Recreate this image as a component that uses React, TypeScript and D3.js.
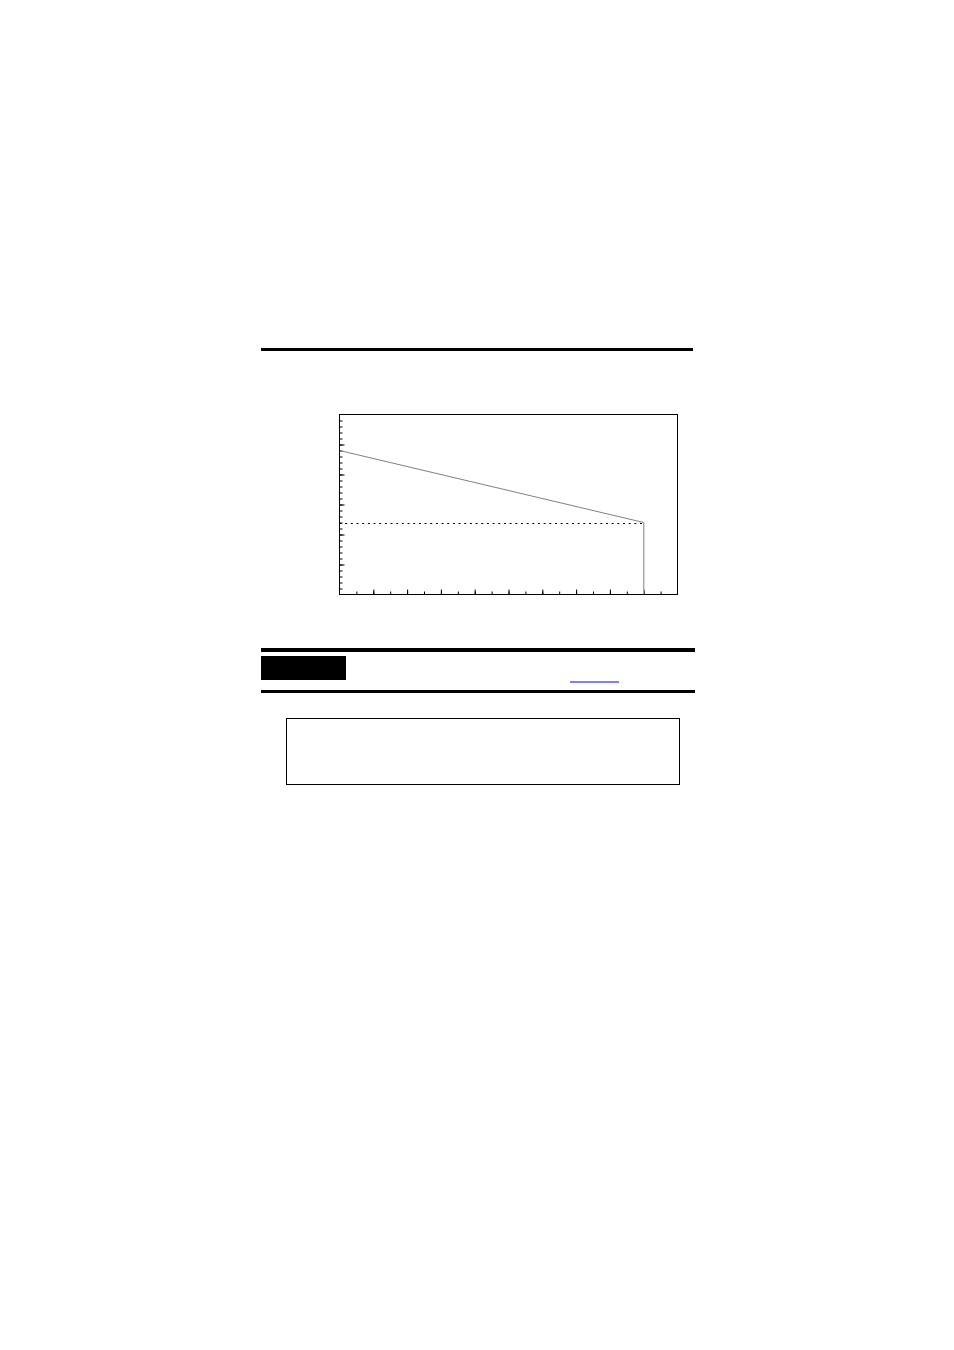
import { useEffect, useRef } from "react";
import * as d3 from "d3";

// chart values (no labels are printed in the reference)
const xDomain = [0, 20];
const yDomain = [0, 30];
const curveX = [0, 18];
const curveY = [24, 12];
const levelY = [12];
const dropX = [18];
const xMinorTicks = d3.range(1, 20, 1);
const xMajorTicks = d3.range(2, 20, 2);
const yMinorTicks = d3.range(1, 30, 1);
const yMajorTicks = d3.range(5, 30, 5);

const W = 954;
const H = 1350;

const App: React.FC = () => {
    const svgRef = useRef<SVGSVGElement | null>(null);

    useEffect(() => {
        const svg = d3.select(svgRef.current);
        svg.selectAll("*").remove();

        // page rules and boxes around the figure
        svg.append("rect").attr("x", 261).attr("y", 348).attr("width", 432).attr("height", 3).attr("fill", "#000");
        svg.append("rect").attr("x", 261).attr("y", 648).attr("width", 434).attr("height", 4).attr("fill", "#000");
        svg.append("rect").attr("x", 261).attr("y", 656).attr("width", 85).attr("height", 24).attr("fill", "#000");
        svg.append("rect").attr("x", 570).attr("y", 681.5).attr("width", 49).attr("height", 1).attr("fill", "#0000ff");
        svg.append("rect").attr("x", 261).attr("y", 690).attr("width", 434).attr("height", 3).attr("fill", "#000");
        svg.append("rect").attr("x", 286.5).attr("y", 718.5).attr("width", 393).attr("height", 66)
            .attr("fill", "none").attr("stroke", "#000").attr("stroke-width", 1);

        const x = d3.scaleLinear().domain(xDomain).range([339.5, 677.5]);
        const y = d3.scaleLinear().domain(yDomain).range([594.5, 414.5]);

        const g = svg.append("g");

        // inward ticks on bottom and left
        const bottomMinor = d3.axisBottom(x).tickValues(xMinorTicks).tickSize(-3).tickFormat(() => "");
        const bottomMajor = d3.axisBottom(x).tickValues(xMajorTicks).tickSize(-5).tickFormat(() => "");
        const leftMinor = d3.axisLeft(y).tickValues(yMinorTicks).tickSize(-3).tickFormat(() => "");
        const leftMajor = d3.axisLeft(y).tickValues(yMajorTicks).tickSize(-5).tickFormat(() => "");

        [bottomMinor, bottomMajor].forEach(ax => {
            const a = g.append("g").attr("transform", `translate(0,${y(0)})`).call(ax);
            a.select(".domain").remove();
            a.selectAll("line").attr("stroke", "#000").attr("stroke-width", 1);
        });
        [leftMinor, leftMajor].forEach(ax => {
            const a = g.append("g").attr("transform", `translate(${x(0)},0)`).call(ax);
            a.select(".domain").remove();
            a.selectAll("line").attr("stroke", "#000").attr("stroke-width", 1);
        });

        // dotted level line
        g.selectAll(".level")
            .data(levelY)
            .enter()
            .append("line")
            .attr("class", "level")
            .attr("x1", x(0))
            .attr("x2", x(dropX[0]))
            .attr("y1", d => Math.round(y(d)) + 0.5)
            .attr("y2", d => Math.round(y(d)) + 0.5)
            .attr("stroke", "#000")
            .attr("stroke-width", 1)
            .attr("stroke-dasharray", "2,3.67");

        // sloping curve
        const pts: [number, number][] = curveX.map((v, i) => [v, curveY[i]]);
        const line = d3.line<[number, number]>().x(d => x(d[0])).y(d => y(d[1]));
        g.append("path")
            .attr("d", line(pts))
            .attr("fill", "none")
            .attr("stroke", "#808080")
            .attr("stroke-width", 1);

        // vertical drop
        g.selectAll(".drop")
            .data(dropX)
            .enter()
            .append("line")
            .attr("class", "drop")
            .attr("x1", d => x(d))
            .attr("x2", d => x(d))
            .attr("y1", y(curveY[1]))
            .attr("y2", y(0))
            .attr("stroke", "#a8a8a8")
            .attr("stroke-width", 1.5);

        // plot frame
        g.append("rect")
            .attr("x", x(0))
            .attr("y", y(30))
            .attr("width", x(20) - x(0))
            .attr("height", y(0) - y(30))
            .attr("fill", "none")
            .attr("stroke", "#000")
            .attr("stroke-width", 1);
    }, []);

    return (
        <svg
            ref={svgRef}
            width={W}
            height={H}
            style={{ position: "absolute", left: 0, top: 0, background: "#fff" }}
        />
    );
};

export default App;
